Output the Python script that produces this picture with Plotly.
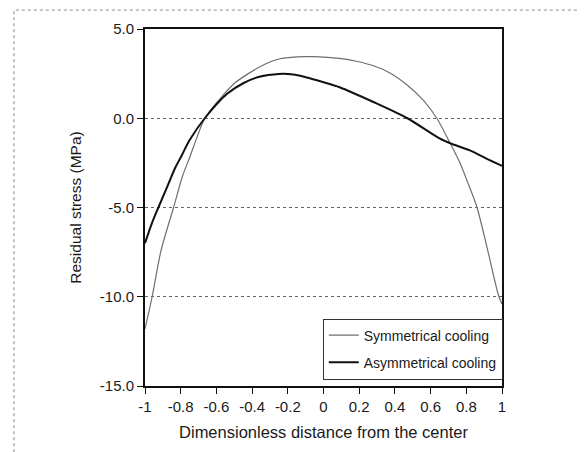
import plotly.graph_objects as go

# valores (tensão residual, MPa)
x_sym = [-1.0, -0.96, -0.91, -0.84, -0.79, -0.75, -0.71, -0.665, -0.58, -0.5,
         -0.41, -0.32, -0.25, -0.15, -0.05, 0.09, 0.19, 0.28, 0.37, 0.47,
         0.56, 0.635, 0.71, 0.76, 0.81, 0.86, 0.92, 0.98, 1.0]
y_sym = [-11.8, -10.0, -7.4, -5.0, -3.25, -2.2, -1.1, 0.0, 1.09, 1.95,
         2.57, 3.07, 3.32, 3.44, 3.45, 3.35, 3.18, 2.94, 2.55, 1.85,
         1.0, 0.0, -1.41, -2.4, -3.65, -5.0, -7.4, -9.9, -10.4]

x_asym = [-1.0, -0.96, -0.925, -0.87, -0.83, -0.795, -0.75, -0.665, -0.54, -0.45,
          -0.36, -0.25, -0.17, -0.1, 0.0, 0.09, 0.28, 0.47, 0.65, 0.72,
          0.82, 0.91, 1.0]
y_asym = [-7.0, -5.85, -5.0, -3.7, -2.76, -2.1, -1.22, 0.0, 1.37, 1.96,
          2.32, 2.48, 2.45, 2.3, 2.02, 1.74, 0.91, 0.0, -1.13, -1.44,
          -1.8, -2.25, -2.67]

x_tickvals = [-1, -0.8, -0.6, -0.4, -0.2, 0, 0.2, 0.4, 0.6, 0.8, 1]
x_ticktext = ["-1", "-0.8", "-0.6", "-0.4", "-0.2", "0", "0.2", "0.4", "0.6", "0.8", "1"]
y_tickvals = [5, 0, -5, -10, -15]
y_ticktext = ["5.0", "0.0", "-5.0", "-10.0", "-15.0"]

FONT = "Liberation Sans, Arial, sans-serif"

fig = go.Figure()
fig.add_trace(
    go.Scatter(
        x=x_sym,
        y=y_sym,
        mode="lines",
        line=dict(color="#6e6e6e", width=1.2, shape="spline", smoothing=0.8),
        name="Symmetrical cooling",
        legendgroup="a",
    )
)
fig.add_trace(
    go.Scatter(
        x=x_asym,
        y=y_asym,
        mode="lines",
        line=dict(color="#111111", width=2, shape="spline", smoothing=0.8),
        name="Asymmetrical cooling",
        legendgroup="b",
    )
)

# moldura pontilhada externa
fig.add_shape(
    type="rect", xref="paper", yref="paper",
    x0=-0.367, x1=1.232, y0=-0.25, y1=1.053,
    line=dict(color="#8a8a8a", width=1, dash="dot"),
    layer="below",
)

# a página tem 8px de margem no body: margens compensadas
fig.update_layout(
    width=587,
    height=452,
    margin=dict(l=137, r=93, t=19, b=74),
    paper_bgcolor="white",
    plot_bgcolor="white",
    font=dict(family=FONT, size=15, color="#1a1a1a"),
    showlegend=True,
    legend=dict(
        x=0.498, y=0.189, xanchor="left", yanchor="top",
        bgcolor="white", bordercolor="#333333", borderwidth=1,
        font=dict(size=14), traceorder="grouped", tracegroupgap=6,
    ),
    xaxis=dict(
        range=[-1, 1],
        tickvals=x_tickvals,
        ticktext=x_ticktext,
        ticks="outside",
        ticklen=6,
        tickcolor="#111111",
        showline=True,
        linecolor="#111111",
        linewidth=2,
        mirror=True,
        showgrid=False,
        zeroline=False,
        title=dict(text="Dimensionless distance from the center",
                   font=dict(size=16.5), standoff=12),
    ),
    yaxis=dict(
        range=[-15, 5],
        tickvals=y_tickvals,
        ticktext=y_ticktext,
        ticks="outside",
        ticklen=6,
        tickcolor="#111111",
        showline=True,
        linecolor="#111111",
        linewidth=2,
        mirror=True,
        showgrid=True,
        gridcolor="#666666",
        griddash="dot",
        gridwidth=1,
        zeroline=False,
        title=dict(text="Residual stress (MPa)", font=dict(size=15.5), standoff=14),
    ),
)

fig.write_html("out.html")
